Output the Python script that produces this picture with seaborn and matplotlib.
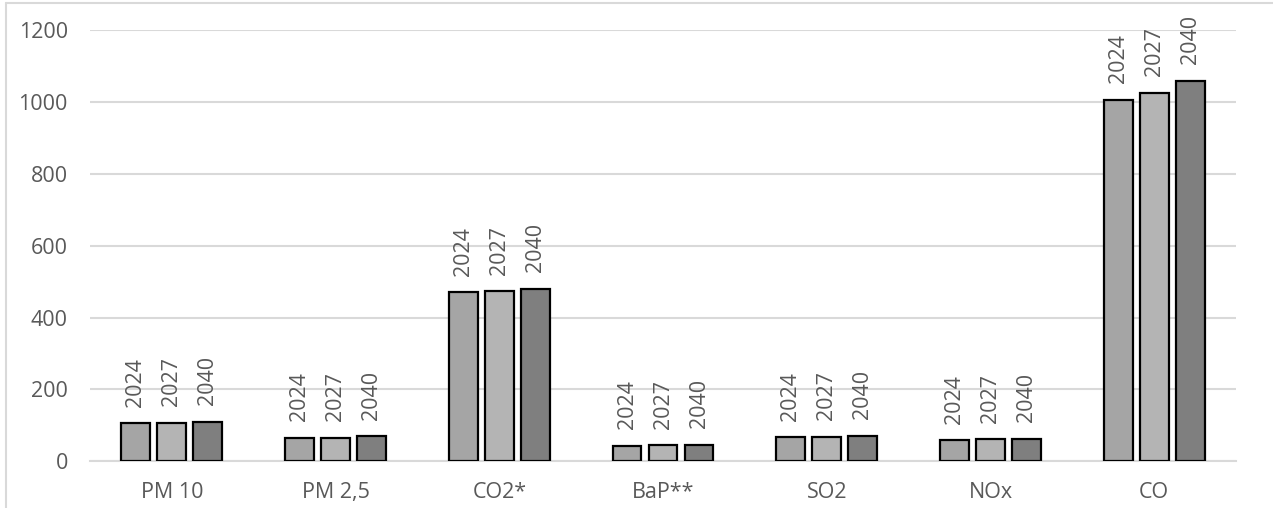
import matplotlib
matplotlib.use("Agg")
import matplotlib.pyplot as plt
from matplotlib.lines import Line2D
import seaborn as sns
import pandas as pd

# Emission categories and yearly values
categories = ["PM 10", "PM 2,5", "CO2*", "BaP**", "SO2", "NOx", "CO"]
years = ["2024", "2027", "2040"]
values_2024 = [105, 65, 470, 42, 66, 58, 1006]
values_2027 = [107, 65, 473, 44, 68, 60, 1026]
values_2040 = [110, 69, 479, 45, 70, 61, 1060]
y_ticks = [0, 200, 400, 600, 800, 1000, 1200]

colors = ["#A5A5A5", "#B4B4B4", "#7F7F7F"]
text_color = "#595959"
grid_color = "#D9D9D9"

rows = []
for year, vals in zip(years, [values_2024, values_2027, values_2040]):
    for cat, v in zip(categories, vals):
        rows.append({"category": cat, "year": year, "value": v})
df = pd.DataFrame(rows)

sns.set_theme(style="white")
plt.rcParams["font.family"] = ["Open Sans", "DejaVu Sans"]

fig = plt.figure(figsize=(12.73, 5.08), dpi=100)
ax = fig.add_axes([0.0707, 0.0925, 0.9003, 0.8475])

sns.barplot(data=df, x="category", y="value", hue="year", order=categories,
            hue_order=years, palette=colors, width=0.66, gap=0.2,
            edgecolor="black", linewidth=1.6, saturation=1, ax=ax, legend=False,
            zorder=3)

for container, year in zip(ax.containers, years):
    ax.bar_label(container, labels=[year] * len(container), rotation=90,
                 padding=12, fontsize=15.5, color=text_color)

ax.set_ylim(0, 1200)
ax.set_xlim(-0.5, len(categories) - 0.5)
ax.set_yticks(y_ticks)
ax.set_yticklabels([str(t) for t in y_ticks])
ax.yaxis.grid(True, color=grid_color, linewidth=1.5, zorder=0)
ax.set_axisbelow(True)
ax.set_xlabel("")
ax.set_ylabel("")
for side in ["top", "right", "left"]:
    ax.spines[side].set_visible(False)
ax.spines["bottom"].set_color(grid_color)
ax.spines["bottom"].set_linewidth(1.5)
ax.tick_params(axis="both", length=0, labelsize=15.5, labelcolor=text_color)
ax.tick_params(axis="x", pad=15)
ax.tick_params(axis="y", pad=16)

# Outer chart frame (top and left edges)
fig.add_artist(Line2D([6 / 1273, 1], [1 - 3 / 508, 1 - 3 / 508],
                      transform=fig.transFigure, color=grid_color, linewidth=1.5))
fig.add_artist(Line2D([6 / 1273, 6 / 1273], [0, 1 - 3 / 508],
                      transform=fig.transFigure, color=grid_color, linewidth=1.5))

fig.savefig("out.png", dpi=100)
